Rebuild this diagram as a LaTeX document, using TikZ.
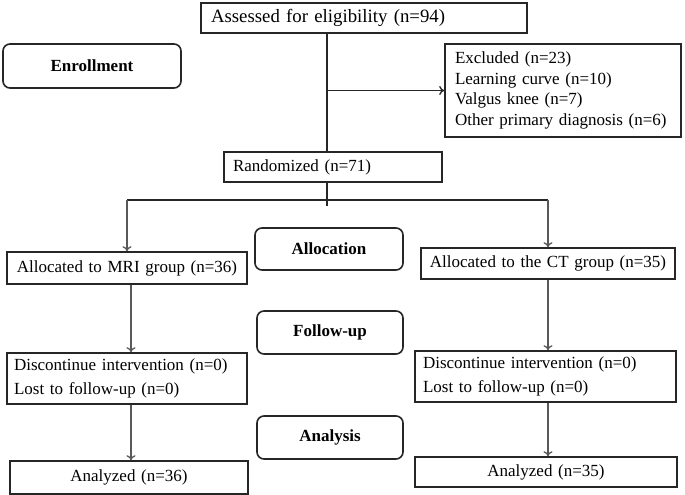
\documentclass[tikz,border=0pt]{standalone}
\usepackage{fontspec}
\setmainfont{Liberation Serif}
\usetikzlibrary{arrows.meta}
\begin{document}
\begin{tikzpicture}[x=1pt,y=-1pt,
  box/.style={draw=black!85, line width=1.6pt, inner ysep=0pt, font=\fontsize{17}{20.5}\selectfont},
  phase/.style={draw=black!85, line width=1.6pt, rounded corners=7pt, inner sep=0pt, font=\fontsize{17}{20}\selectfont\bfseries},
  line/.style={draw=black!85, line width=1.3pt},
  arr/.style={draw=black!65, line width=1.3pt, -{To[length=5pt,width=9pt]}},
]
\useasboundingbox[fill=white] (0,0) rectangle (685,495);

% phase labels
\node[phase, minimum width=178pt, minimum height=44pt] (enroll) at (92,66) {Enrollment};
\node[phase, minimum width=148pt, minimum height=42pt] (alloc) at (329,249) {Allocation};
\node[phase, minimum width=146pt, minimum height=43pt] (follow) at (330,332.5) {Follow-up};
\node[phase, minimum width=146pt, minimum height=43pt] (analysis) at (330,437.5) {Analysis};

% flow boxes
\node[box, text width=306pt, inner xsep=10pt, align=left, minimum height=30pt, font=\fontsize{18.8}{21}\selectfont] (assess) at (364,18) {Assessed for eligibility (n=94)};
\node[box, text width=216pt, inner xsep=10pt, align=left, minimum height=93pt] (excl) at (563,90.5) {Excluded (n=23)\\Learning curve (n=10)\\Valgus knee (n=7)\\Other primary diagnosis (n=6)};
\node[box, text width=200pt, inner xsep=9pt, align=left, minimum height=30pt] (rand) at (333,167) {Randomized (n=71)};
\node[box, text width=224pt, inner xsep=8pt, align=center, minimum height=32pt] (mri) at (127,268) {Allocated to MRI group (n=36)};
\node[box, text width=238pt, inner xsep=8pt, align=center, minimum height=31pt] (ct) at (548,263.5) {Allocated to the CT group (n=35)};
\node[box, text width=226pt, inner xsep=7pt, align=left, minimum height=51pt, font=\fontsize{17}{24}\selectfont] (discL) at (127,378.5) {Discontinue intervention (n=0)\\Lost to follow-up (n=0)};
\node[box, text width=245pt, inner xsep=8pt, align=left, minimum height=51pt, font=\fontsize{17}{24}\selectfont] (discR) at (545.5,376.5) {Discontinue intervention (n=0)\\Lost to follow-up (n=0)};
\node[box, text width=222pt, inner xsep=8pt, align=center, minimum height=33pt] (anL) at (129,477.5) {Analyzed (n=36)};
\node[box, text width=246pt, inner xsep=8pt, align=center, minimum height=30pt] (anR) at (546,472) {Analyzed (n=35)};

% helper coordinates
\coordinate (trunk) at (327,0);
\coordinate (branch) at (0,200);
\coordinate (tail) at (327,206);
\coordinate (colL) at (131,0);
\coordinate (colR) at (548,0);

% connectors
\draw[line] (assess.south -| trunk) -- (rand.north -| trunk);
\draw[line, -{To[length=5pt,width=9pt]}] (trunk |- excl.west) -- (excl.west);
\draw[line] (rand.south -| trunk) -- (tail);
\draw[line] (branch -| mri.north) -- (branch -| colR);
\draw[arr] (branch -| mri.north) -- (mri.north);
\draw[arr] (branch -| colR) -- (ct.north -| colR);
\draw[arr] (mri.south -| colL) -- (discL.north -| colL);
\draw[arr] (discL.south -| colL) -- (anL.north -| colL);
\draw[arr] (ct.south -| colR) -- (discR.north -| colR);
\draw[arr] (discR.south -| colR) -- (anR.north -| colR);
\end{tikzpicture}
\end{document}
